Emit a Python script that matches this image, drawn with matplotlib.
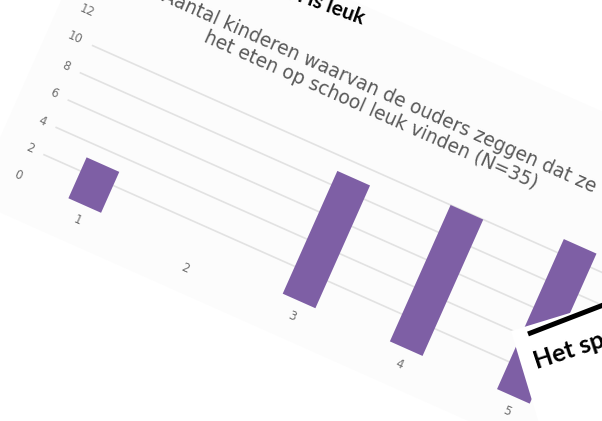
import matplotlib
matplotlib.use("Agg")
import matplotlib.pyplot as plt
from matplotlib.transforms import Affine2D
from matplotlib.patches import Polygon
from matplotlib.lines import Line2D
from mpl_toolkits.axisartist import floating_axes
from mpl_toolkits.axisartist.grid_finder import FixedLocator, DictFormatter

plt.rcParams["font.family"] = ["DejaVu Sans"]

# data
categories = [1, 2, 3, 4, 5]
counts = [3, 0, 9, 10, 11]
y_ticks = [0, 2, 4, 6, 8, 10, 12]
chart_title = ("Aantal kinderen waarvan de ouders zeggen dat ze\n"
               "het eten op school leuk vinden (N=35)")
slide_title = "Het eten op school is leuk"
next_slide_title = "Het speelplein is leuk"

bar_color = "#7e5fa5"
grid_color = "#e2e2e2"
label_color = "#6f6f6f"

fig = plt.figure(figsize=(6.02, 4.21), dpi=100)

# the chart is photographed tilted by about 24 degrees clockwise
tr = (Affine2D().scale(117.3, 14.93)
      .translate(161 - 117.3, -153.3)
      .rotate_deg(-24))

gh = floating_axes.GridHelperCurveLinear(
    tr, extremes=(0.5, 5.5, 0, 12),
    grid_locator1=FixedLocator(categories),
    grid_locator2=FixedLocator(y_ticks),
    tick_formatter1=DictFormatter({c: str(c) for c in categories}),
    tick_formatter2=DictFormatter({v: str(v) for v in y_ticks}))

ax = fig.add_axes([0, 0, 1, 1], axes_class=floating_axes.FloatingAxes,
                  grid_helper=gh)
aux = ax.get_aux_axes(tr)

ax.patch.set_facecolor("none")
ax.grid(True, axis="y", color=grid_color, linewidth=1.2)

for side in ["top", "right"]:
    ax.axis[side].set_visible(False)
for side in ["left", "bottom"]:
    ax.axis[side].line.set_visible(False)
    ax.axis[side].major_ticks.set_visible(False)
    ax.axis[side].major_ticklabels.set_color(label_color)
    ax.axis[side].major_ticklabels.set_fontsize(8.5)
    ax.axis[side].major_ticklabels.set_fontfamily("DejaVu Sans")
    ax.axis[side].major_ticklabels.set_pad(8)

aux.bar(categories, counts, width=0.305, color=bar_color, zorder=3)

aux.text(2.9, 14.3, chart_title, rotation=-24, rotation_mode="anchor",
         ha="center", va="center", multialignment="center",
         fontsize=13.5, color="#595959", linespacing=1.1,
         family="DejaVu Sans")

ax.set_xlim(0, 602)
ax.set_ylim(-421, 0)

# light card behind the chart
card = Polygon([(0.105, -2.73), (7.5, -2.73), (7.5, 19.85), (0.105, 19.85)],
               closed=True, facecolor="#fcfcfc", edgecolor="none",
               transform=tr + ax.transData, zorder=-1)
fig.add_artist(card)

# screen pixel coordinates (y downwards) for the overlapping slide pieces
scr = Affine2D().scale(1, -1) + ax.transData

ax.text(362, 25, slide_title, transform=scr, rotation=-20,
        rotation_mode="anchor", ha="right", va="baseline",
        fontsize=15, fontweight="bold", color="black", family="Lato")

front = Polygon([(511, 331), (720, 267), (720, 440), (544, 440)],
                closed=True, facecolor="white", edgecolor="none",
                transform=scr, zorder=5)
fig.add_artist(front)
fig.add_artist(Line2D([528, 650], [334, 287], color="black", linewidth=3.6,
                      solid_capstyle="butt", transform=scr, zorder=6))
fig.text(537, 369, next_slide_title, transform=scr, rotation=18.3,
         rotation_mode="anchor", ha="left", va="baseline", fontsize=18,
         fontweight="bold", color="black", family="Lato", zorder=6)

fig.savefig("out.png", dpi=100)
